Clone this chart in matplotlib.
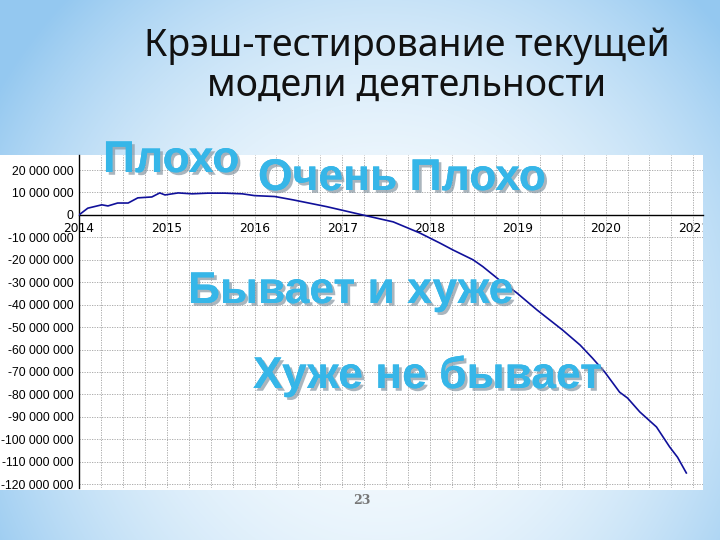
import numpy as np
import matplotlib
matplotlib.use("Agg")
import matplotlib.pyplot as plt
import matplotlib.patheffects as pe
from matplotlib.patches import Rectangle
from matplotlib.ticker import FuncFormatter

# data (values in millions)
years = [2014.0, 2014.10, 2014.26, 2014.33, 2014.44, 2014.56, 2014.67, 2014.83,
         2014.92, 2014.98, 2015.13, 2015.29, 2015.47, 2015.66, 2015.86, 2016.0,
         2016.23, 2016.44, 2016.82, 2017.23, 2017.58, 2017.88, 2018.11, 2018.26,
         2018.49, 2018.60, 2018.79, 2018.99, 2019.22, 2019.51, 2019.71, 2019.85,
         2019.99, 2020.16, 2020.25, 2020.39, 2020.58, 2020.73, 2020.82, 2020.92]
values = [0, 3.0, 4.5, 4.0, 5.3, 5.3, 7.6, 8.0,
          9.8, 8.9, 9.8, 9.4, 9.7, 9.7, 9.4, 8.6,
          8.2, 6.7, 3.7, 0, -3.1, -8.0, -12.5, -15.6,
          -20.0, -23.0, -29.0, -34.8, -42.4, -51.3, -58.0, -63.8,
          -70.0, -79.0, -81.6, -87.8, -94.5, -103.4, -108.0, -115.0]
year_ticks = [2014, 2015, 2016, 2017, 2018, 2019, 2020, 2021]
y_ticks = list(range(20, -121, -10))

title = "Крэш-тестирование текущей\nмодели деятельности"
labels = ["Плохо", "Очень Плохо", "Бывает и хуже", "Хуже не бывает"]

W, H = 720, 540
fig = plt.figure(figsize=(7.2, 5.4), dpi=100)

# slide background
bg = fig.add_axes([0, 0, 1, 1])
yy, xx = np.mgrid[0:H, 0:W]
d = np.sqrt(((xx - 380) / 450.0) ** 2 + ((yy - 340) / 480.0) ** 2)
t = np.clip(d, 0, 1) ** 2.2
c0 = np.array([246, 251, 254]) / 255.0
c1 = np.array([148, 200, 240]) / 255.0
img = c0[None, None, :] * (1 - t[..., None]) + c1[None, None, :] * t[..., None]
bg.imshow(img, extent=(0, W, H, 0), aspect="auto")
bg.set_xlim(0, W)
bg.set_ylim(H, 0)
bg.axis("off")
white = Rectangle((0, 155), 703, 335, facecolor="white", edgecolor="none")
bg.add_patch(white)

# chart
ax = fig.add_axes([79 / W, 1 - 488 / H, (703 - 79) / W, (488 - 155) / H])
ax.patch.set_alpha(0)
ax.plot(years, values, color="#10109a", lw=1.2, zorder=3)
ax.set_xlim(2014, 2021.11)
ax.set_ylim(-121.7, 26.7)

ax.set_xticks(year_ticks)
ax.set_xticks(np.arange(2014, 2021.2, 0.25), minor=True)
ax.set_yticks(y_ticks)
ax.yaxis.set_major_formatter(FuncFormatter(
    lambda v, p: "0" if v == 0 else f"{int(v * 1e6):,}".replace(",", " ")))
ax.grid(True, which="both", color="#a0a0a0", lw=0.6, linestyle=(0, (1.5, 1.5)))
ax.tick_params(which="both", length=0)
ax.tick_params(axis="x", pad=5, labelsize=8.8)
ax.tick_params(axis="y", pad=4, labelsize=8.8)
for lab in ax.get_xticklabels() + ax.get_yticklabels():
    lab.set_fontfamily("Liberation Sans")
ax.spines["top"].set_visible(False)
ax.spines["right"].set_visible(False)
ax.spines["bottom"].set_position(("data", 0))
ax.spines["left"].set_linewidth(1.0)
ax.spines["bottom"].set_linewidth(1.0)
for tk in ax.xaxis.get_major_ticks():
    tk.label1.set_clip_path(white)

# slide title
fig.text(407 / W, 1 - 66 / H, title, ha="center", va="center", fontsize=27,
         family="Noto Sans", color="#111111", linespacing=1.05)

# overlay captions
fx = [pe.withSimplePatchShadow(offset=(2, -2), shadow_rgbFace="#8796a2", alpha=0.7),
      pe.Normal()]
pos = [(103, 172), (258, 190), (188, 303), (253, 388)]
for txt, (px, py) in zip(labels, pos):
    fig.text(px / W, 1 - py / H, txt, ha="left", va="baseline", fontsize=32,
             weight="bold", family="Liberation Sans", color="#36b6e8",
             path_effects=fx)

fig.text(362 / W, 1 - 500 / H, "23", ha="center", va="center", fontsize=9,
         color="#777777", weight="bold", family="DejaVu Serif")

fig.savefig("out.png", dpi=100)
